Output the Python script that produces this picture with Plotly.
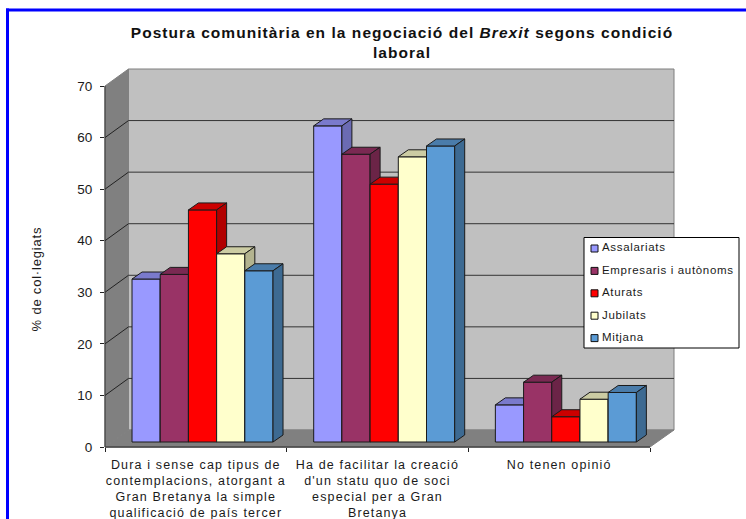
import plotly.graph_objects as go

categories = [
    "Dura i sense cap tipus de<br>contemplacions, atorgant a<br>Gran Bretanya la simple<br>qualificació de país tercer",
    "Ha de facilitar la creació<br>d'un statu quo de soci<br>especial per a Gran<br>Bretanya",
    "No tenen opinió",
]
series_names = ["Assalariats", "Empresaris i autònoms", "Aturats", "Jubilats", "Mitjana"]
assalariats = [31.6, 61.3, 7.2]
empresaris = [32.5, 55.8, 11.6]
aturats = [45.0, 50.0, 4.9]
jubilats = [36.5, 55.3, 8.3]
mitjana = [33.2, 57.4, 9.6]
y_ticks = [0, 10, 20, 30, 40, 50, 60, 70]

front_colors = ["#9999FF", "#993366", "#FF0000", "#FFFFCC", "#5B9BD5"]
top_colors = ["#7A7ACC", "#7A2952", "#CC0000", "#CCCCA3", "#4A7CAA"]
side_colors = ["#6B6BB3", "#6B2447", "#B20000", "#B3B38F", "#3D6A92"]
all_series = [assalariats, empresaris, aturats, jubilats, mitjana]

W, H = 746, 519
L, R, T, B = 105, 674, 69, 447          # plot area in pixels
X_UNIT = 545 / 3                        # px per category
Y_UNIT = 361 / 70                       # px per y unit
X_MIN = -0.5
X_MAX = X_MIN + (R - L) / X_UNIT
Y_MAX = (B - T) / Y_UNIT
BAR_W = 28.2 / X_UNIT
BAR_SHIFT = 6.7 / X_UNIT
BAR_BASE = 5 / Y_UNIT
BAR_DX = 10 / X_UNIT
BAR_DY = 7 / Y_UNIT
EDGE = "#1a1a1a"
WALL_DX, WALL_DY = 23.5, 17             # wall depth in pixels


def px_x(p):
    return X_MIN + (p - L) / X_UNIT


def px_y(p):
    return (B - p) / Y_UNIT


def paper_x(p):
    return (p - L) / (R - L)


def paper_y(p):
    return (B - p) / (B - T)


def tick_py(v):
    return B - v * Y_UNIT


AXIS_END = L + 3 * X_UNIT
shapes = []


def polygon(points, fill, line=None):
    d = "M" + "L".join(f"{paper_x(a)},{paper_y(b)}" for a, b in points) + "Z"
    shapes.append(dict(type="path", path=d, xref="paper", yref="paper", layer="below",
                       fillcolor=fill, line=dict(color=line or fill, width=1)))


def segment(x0, y0, x1, y1, color, width=1):
    shapes.append(dict(type="line", xref="paper", yref="paper", layer="below",
                       x0=paper_x(x0), y0=paper_y(y0), x1=paper_x(x1), y1=paper_y(y1),
                       line=dict(color=color, width=width)))


# back wall, side wall, floor
polygon([(L + WALL_DX, B - WALL_DY), (R, B - WALL_DY), (R, T), (L + WALL_DX, T)], "#C0C0C0", "#7f7f7f")
polygon([(L, B), (L + WALL_DX, B - WALL_DY), (L + WALL_DX, T), (L, tick_py(70))], "#808080")
polygon([(L, B), (AXIS_END, B), (R, B - WALL_DY), (L + WALL_DX, B - WALL_DY)], "#808080")

# gridlines on walls
for v in y_ticks[1:-1]:
    segment(L, tick_py(v), L + WALL_DX, tick_py(v) - WALL_DY, "#222222")
    segment(L + WALL_DX, tick_py(v) - WALL_DY, R, tick_py(v) - WALL_DY, "#333333")
# axis lines
segment(L, B, L, tick_py(70), "#333333")
segment(L, B, AXIS_END, B, "#444444", 1.5)
# legend box
shapes.append(dict(type="rect", xref="paper", yref="paper", layer="below",
                   x0=paper_x(584), x1=paper_x(739), y0=paper_y(237.5), y1=paper_y(348),
                   fillcolor="white", line=dict(color="black", width=1)))
# page border
segment(7.5, 8.5, 7.5, 525, "#0000FF", 3)
segment(6, 10, 752, 10, "#0000FF", 3)

fig = go.Figure()

for s, (name, values) in enumerate(zip(series_names, all_series)):
    axis_x = "x" if s == 0 else f"x{s + 1}"
    axis_y = "y" if s == 0 else f"y{s + 1}"
    centers = [g + BAR_SHIFT + (s - 2) * BAR_W for g in range(len(values))]
    fig.add_trace(go.Bar(x=centers, y=values, base=BAR_BASE, width=BAR_W, name=name,
                         marker=dict(color=front_colors[s], line=dict(color=EDGE, width=1)),
                         xaxis=axis_x, yaxis=axis_y, showlegend=False, hoverinfo="name+y"))
    for c, v in zip(centers, values):
        left, right = c - BAR_W / 2, c + BAR_W / 2
        top = BAR_BASE + v
        top_face = [(left, top), (right, top), (right + BAR_DX, top + BAR_DY), (left + BAR_DX, top + BAR_DY), (left, top)]
        side_face = [(right, BAR_BASE), (right + BAR_DX, BAR_BASE + BAR_DY), (right + BAR_DX, top + BAR_DY),
                     (right, top), (right, BAR_BASE)]
        for face, col in ((top_face, top_colors[s]), (side_face, side_colors[s])):
            fig.add_trace(go.Scatter(x=[p[0] for p in face], y=[p[1] for p in face], mode="lines",
                                     fill="toself", fillcolor=col, line=dict(color=EDGE, width=1),
                                     xaxis=axis_x, yaxis=axis_y, showlegend=False, hoverinfo="skip"))

# legend entries
legend_y = [px_y(248.5 + 22.4 * i) for i in range(len(series_names))]
fig.add_trace(go.Scatter(x=[px_x(594.5)] * len(series_names), y=legend_y, mode="markers",
                         marker=dict(symbol="square", size=7, color=front_colors, line=dict(color="#111111", width=1)),
                         cliponaxis=False, showlegend=False, hoverinfo="skip", xaxis="x5", yaxis="y5"))
fig.add_trace(go.Scatter(x=[px_x(602)] * len(series_names), y=legend_y, mode="text", text=series_names,
                         textposition="middle right", textfont=dict(family="Liberation Sans", size=11.5, color="#1a1a1a"),
                         cliponaxis=False, showlegend=False, hoverinfo="skip", xaxis="x5", yaxis="y5"))

axis_common = dict(range=[X_MIN, X_MAX], fixedrange=True)
layout = dict(
    width=W, height=H,
    margin=dict(l=L, r=W - R, t=T, b=H - B, autoexpand=False),
    paper_bgcolor="white", plot_bgcolor="rgba(0,0,0,0)",
    showlegend=False,
    font=dict(family="Liberation Sans", color="#1a1a1a"),
    shapes=shapes,
    title=dict(text="Postura comunitària en la negociació del <i>Brexit</i> segons condició<br>laboral",
               font=dict(family="Liberation Sans", size=15.5, color="#111111", weight="bold"),
               x=402 / W, xanchor="center", y=1 - 38 / H, yanchor="top"),
    xaxis=dict(**axis_common, tickvals=[0, 1, 2], ticktext=categories, ticks="", showgrid=False, zeroline=False,
               showline=False, tickangle=0, tickfont=dict(size=12.5), ticklabelstandoff=8,
               minor=dict(tickvals=[-0.5, 0.5, 1.5, 2.5], ticks="outside", ticklen=4, tickcolor="#222222", showgrid=False)),
    yaxis=dict(range=[0, Y_MAX], fixedrange=True, tickvals=y_ticks, ticks="outside", ticklen=4, tickcolor="#222222",
               showgrid=False, zeroline=False, showline=False, tickfont=dict(size=13.5), ticklabelstandoff=5),
    annotations=[dict(text="% de col·legiats", textangle=-90, xref="paper", yref="paper",
                      x=paper_x(36), y=paper_y(279), xanchor="center", yanchor="middle", showarrow=False,
                      font=dict(family="Liberation Sans", size=13, color="#1a1a1a"))],
)
for i in range(2, 6):
    layout[f"xaxis{i}"] = dict(**axis_common, overlaying="x", visible=False)
    layout[f"yaxis{i}"] = dict(range=[0, Y_MAX], fixedrange=True, overlaying="y", visible=False)
fig.update_layout(**layout)

# The reference's text is set wider than Liberation Sans, so the glyphs get a little tracking.
tracking_css = (
    ".xtick text{letter-spacing:1.15px}"
    ".gtitle{letter-spacing:1.05px}"
    ".textpoint text{letter-spacing:.67px}"
    ".annotation-text{letter-spacing:.8px}"
)
fig.write_html("out.html", config=dict(displayModeBar=False),
               post_script="document.body.style.margin='0';"
                           "var st=document.createElement('style');"
                           f"st.textContent='{tracking_css}';"
                           "document.head.appendChild(st);")
